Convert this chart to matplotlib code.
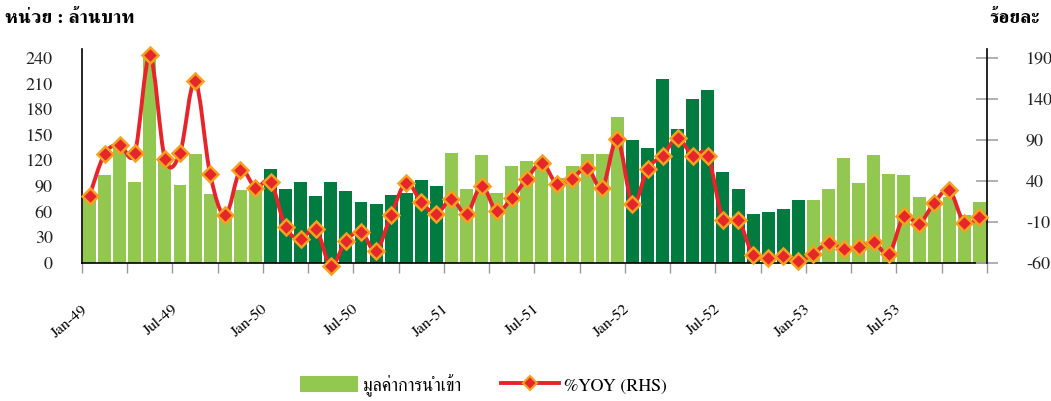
import numpy as np
import matplotlib
matplotlib.use('Agg')
import matplotlib.pyplot as plt
from matplotlib.path import Path
from matplotlib.patches import PathPatch, Patch
from matplotlib.lines import Line2D

plt.rcParams['font.family'] = ['FreeSerif', 'DejaVu Serif']
plt.rcParams['axes.unicode_minus'] = False

# monthly data Jan-49 .. Dec-53 (Thai years)
months = ['Jan', 'Feb', 'Mar', 'Apr', 'May', 'Jun', 'Jul', 'Aug', 'Sep', 'Oct', 'Nov', 'Dec']
years = ['49', '50', '51', '52', '53']
periods = [m + '-' + y for y in years for m in months]

import_value = [80, 103, 137, 95, 245, 124, 91, 127, 81, 57, 86, 89,
                110, 87, 95, 79, 95, 84, 71, 69, 80, 82, 97, 90,
                129, 87, 126, 82, 113, 119, 115, 100, 113, 127, 128, 171,
                144, 134, 215, 157, 192, 203, 107, 87, 57, 60, 63, 74,
                74, 87, 123, 94, 126, 104, 103, 77, 65, 77, 56, 71]

yoy = [22, 73, 84, 74, 193, 67, 74, 162, 48, -2, 53, 32,
       39, -16, -31, -18, -63, -33, -22, -45, -1, 38, 14, 0,
       18, 0, 34, 3, 19, 43, 62, 36, 43, 56, 32, 91,
       12, 55, 71, 92, 71, 71, -7, -7, -50, -54, -52, -57,
       -49, -35, -43, -41, -34, -49, -3, -12, 13, 29, -11, -4]

light_green = '#92C850'
dark_green = '#017B3F'
bar_colors = [light_green if (i // 12) % 2 == 0 else dark_green for i in range(len(periods))]

x = np.arange(len(periods))

fig = plt.figure(figsize=(10.51, 4.01), dpi=100)
ax = fig.add_axes([0.078, 0.344, 0.861, 0.533])
ax2 = ax.twinx()

ax.bar(x, import_value, width=0.86, color=bar_colors, zorder=2)
ax.set_xlim(-0.5, len(periods) - 0.5)
ax.set_ylim(0, 250)
ax.set_yticks(np.arange(0, 241, 30))
ax2.set_ylim(-60, 200.4)
ax2.set_yticks(np.arange(-60, 191, 50))

# smoothed line (Excel style bezier through the points)
pts = np.column_stack([x, yoy]).astype(float)
verts = [pts[0]]
codes = [Path.MOVETO]
for i in range(len(pts) - 1):
    p0 = pts[i - 1] if i > 0 else pts[i]
    p1 = pts[i]
    p2 = pts[i + 1]
    p3 = pts[i + 2] if i + 2 < len(pts) else pts[i + 1]
    c1 = p1 + (p2 - p0) / 6.0
    c2 = p2 - (p3 - p1) / 6.0
    verts += [c1, c2, p2]
    codes += [Path.CURVE4] * 3
ax2.add_patch(PathPatch(Path(verts, codes), fill=False, edgecolor='#E8232A', lw=2.8,
                        zorder=3, clip_on=False))
ax2.plot(x, yoy, linestyle='none', marker='D', markersize=8, markerfacecolor='#E5262B',
         markeredgecolor='#F7A11E', markeredgewidth=1.8, zorder=4, clip_on=False)

ax.set_zorder(1)
ax2.set_zorder(2)
ax.patch.set_visible(False)

# spines and ticks
for a in (ax, ax2):
    a.spines['top'].set_visible(False)
ax.spines['right'].set_visible(False)
ax2.spines['left'].set_visible(False)
ax2.spines['bottom'].set_visible(False)
for s in ('left', 'bottom'):
    ax.spines[s].set_linewidth(1.2)
ax2.spines['right'].set_linewidth(1.2)

ax.tick_params(axis='y', length=0, pad=21, labelsize=13, labelcolor='#222222')
ax2.tick_params(axis='y', direction='inout', length=16, width=1.3, color='#AAAAAA',
                pad=20, labelsize=13, labelcolor='#222222')

ax.set_xticks(np.arange(-0.5, len(periods) + 0.5, 3))
ax.set_xticklabels([])
ax.tick_params(axis='x', which='major', length=7, width=1, color='#999999')
ax.set_xticks(x[::6], minor=True)
ax.set_xticklabels(periods[::6], minor=True, rotation=40, ha='right', va='top', fontsize=11.5)
ax.tick_params(axis='x', which='minor', length=0, pad=28)

fig.text(0.005, 0.955, 'หน่วย : ล้านบาท', fontsize=14, fontweight='bold', va='center')
fig.text(0.989, 0.955, 'ร้อยละ', fontsize=14, fontweight='bold', va='center', ha='right')

handles = [Patch(facecolor=light_green),
           Line2D([], [], color='#E8232A', lw=2.8, marker='D', markersize=7,
                  markerfacecolor='#E5262B', markeredgecolor='#F7A11E', markeredgewidth=1.5)]
fig.legend(handles, ['มูลค่าการนำเข้า', '%YOY (RHS)'], loc='center', bbox_to_anchor=(0.46, 0.04),
           ncol=2, frameon=False, fontsize=13, handlelength=3.2, handleheight=1.0,
           columnspacing=2.2, handletextpad=0.3)

fig.savefig('out.png', dpi=100)
